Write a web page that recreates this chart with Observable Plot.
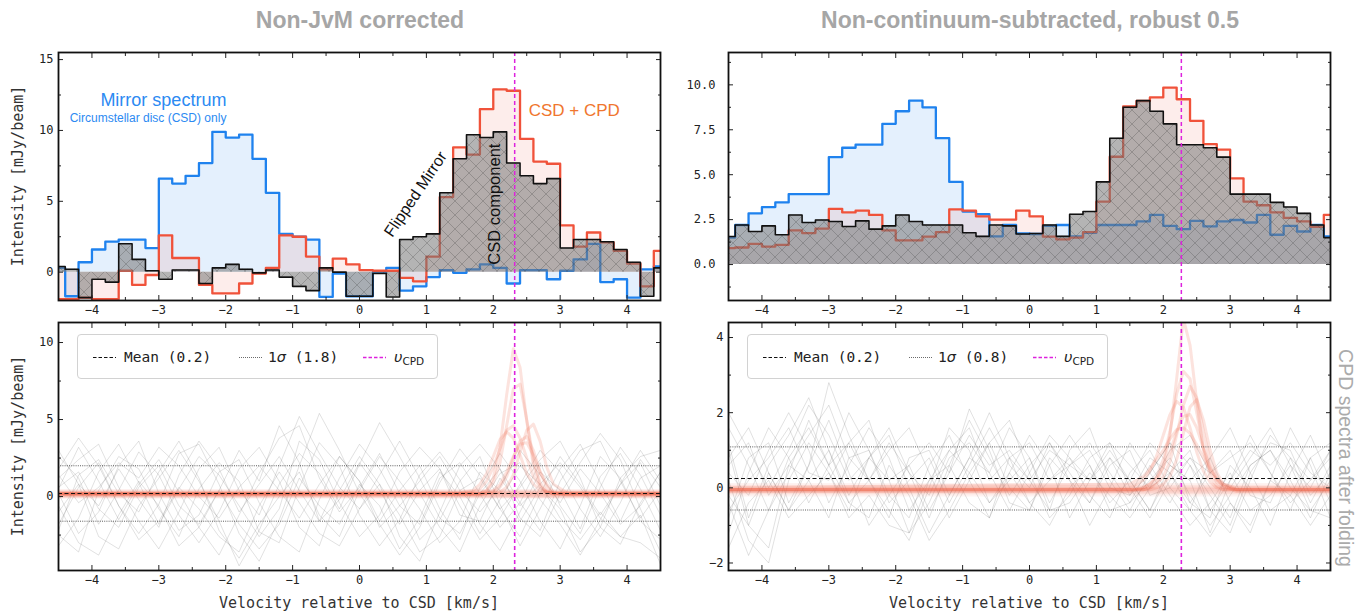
<!DOCTYPE html>
<html><head><meta charset="utf-8">
<script src="https://cdn.jsdelivr.net/npm/d3@7"></script>
<script src="https://cdn.jsdelivr.net/npm/@observablehq/plot@0.6"></script>
<style>
html,body{margin:0;padding:0;background:#fff}
body{width:1356px;height:614px;position:relative;overflow:hidden;font-family:"DejaVu Sans Mono",monospace;color:#222}
.abs{position:absolute}
.title{position:absolute;font-family:"Liberation Sans",Arial,sans-serif;font-weight:bold;font-size:23px;color:#a6a6a6;transform:translate(-50%,-50%);white-space:nowrap}
.ylab{position:absolute;font-family:"DejaVu Sans Mono",monospace;font-size:15px;color:#333;transform:translate(-50%,-50%) rotate(-90deg);white-space:nowrap}
.xlab{position:absolute;font-family:"DejaVu Sans Mono",monospace;font-size:15px;color:#333;transform:translate(-50%,-50%);white-space:nowrap}
.side{position:absolute;font-family:"Liberation Sans",Arial,sans-serif;font-size:19.5px;color:#ababab;transform:translate(-50%,-50%) rotate(90deg);white-space:nowrap}
.legend{position:absolute;width:361px;height:45px;border:1px solid #d2d2d2;border-radius:4px;background:rgba(255,255,255,0.85);box-sizing:border-box}
.lt{position:absolute;top:14px;line-height:16px;font-size:14.5px;font-family:"DejaVu Sans Mono",monospace;color:#222;white-space:nowrap}
.sig{font-family:"DejaVu Sans",sans-serif;font-style:italic}
.ups{font-family:"DejaVu Sans",sans-serif;font-style:italic}
.lt sub{font-family:"DejaVu Sans",sans-serif;font-size:10.5px;vertical-align:-3px;line-height:0}
</style></head>
<body>
<svg width="0" height="0" style="position:absolute"><defs>
<pattern id="hatch" patternUnits="userSpaceOnUse" width="14" height="14">
<path d="M0,0L14,14M14,0L0,14" stroke="#3d3d3d" stroke-width="0.6" stroke-opacity="0.45" fill="none"/>
</pattern></defs></svg>
<script>
// ---------- data ----------
const vel = [-4.5,-4.3,-4.1,-3.9,-3.7,-3.5,-3.3,-3.1,-2.9,-2.7,-2.5,-2.3,-2.1,-1.9,-1.7,-1.5,-1.3,-1.1,-0.9,-0.7,-0.5,-0.3,-0.1,0.1,0.3,0.5,0.7,0.9,1.1,1.3,1.5,1.7,1.9,2.1,2.3,2.5,2.7,2.9,3.1,3.3,3.5,3.7,3.9,4.1,4.3,4.5];

// Non-JvM corrected (left)
const leftMirror  = [0.3,-1.7,0.7,1.6,2.15,2.3,2.3,1.7,6.6,6.25,6.8,7.7,9.9,9.5,9.7,8.0,5.6,2.7,2.5,2.3,-1.75,-0.1,-1.7,-1.7,0.0,0.3,-1.3,-1.0,-0.35,0.15,-0.05,0.2,0.55,0.3,-0.8,0.15,0.15,-0.5,0.1,0.9,2.0,-0.7,-0.5,-1.8,0.2,0.4];
const leftCsdCpd  = [-1.9,-1.9,-1.8,-1.9,-1.9,0.1,-0.9,-0.2,2.6,1.0,1.0,-0.9,-1.5,-1.5,-0.8,-0.1,0.3,2.6,2.5,1.1,0.2,0.95,0.55,0.15,0.1,0.1,-0.4,-0.65,1.1,5.3,8.8,8.3,11.5,12.9,12.8,9.4,7.8,7.65,3.3,1.8,2.8,2.1,1.5,0.6,-1.0,1.5];
const leftFlipped = [0.4,0.2,-1.8,-0.5,-0.7,2.0,0.9,0.1,-0.5,0.15,0.15,-0.8,0.3,0.55,0.2,-0.05,0.15,-0.35,-1.0,-1.3,0.3,0.0,-1.7,-1.7,-0.1,-1.75,2.3,2.5,2.7,5.6,8.0,9.7,9.5,9.9,7.7,6.8,6.25,6.6,1.7,2.3,2.3,2.15,1.6,0.7,-1.7,0.3];

// Non-continuum-subtracted, robust 0.5 (right)
const rightMirror  = [1.5,2.2,2.85,3.2,3.46,3.92,3.92,3.92,5.98,6.5,6.67,6.67,7.83,8.53,9.12,8.75,7.03,4.6,2.95,2.8,1.57,2.2,1.73,1.7,2.15,2.2,1.57,1.77,2.2,2.2,2.2,2.4,2.76,2.15,1.97,2.43,2.12,2.4,2.48,2.34,2.76,1.66,2.15,1.84,2.2,1.56];
const rightCsdCpd  = [0.92,0.95,1.15,1.0,1.1,1.9,1.75,2.0,3.1,2.9,3.0,2.76,1.9,1.35,1.35,1.55,1.8,3.07,3.0,2.68,2.5,2.5,3.0,2.68,1.55,1.4,1.5,1.8,3.5,6.0,8.8,9.1,9.3,9.85,9.2,8.0,6.7,6.4,4.8,3.5,3.3,2.9,2.6,2.4,2.1,2.76];
const rightFlipped = [1.56,2.2,1.84,2.15,1.66,2.76,2.34,2.48,2.4,2.12,2.43,1.97,2.15,2.76,2.4,2.2,2.2,2.2,1.77,1.57,2.2,2.15,1.7,1.73,2.2,1.57,2.8,2.95,4.6,7.03,8.75,9.12,8.53,7.83,6.67,6.67,6.5,5.98,3.92,3.92,3.92,3.46,3.2,2.85,2.2,1.5];

const vCpdLeft = 2.32, vCpdRight = 2.27;

// CPD spectra after folding: noise spectra (grey)
const vNoise = [-4.5,-4.2,-3.9,-3.6,-3.3,-3.0,-2.7,-2.4,-2.1,-1.8,-1.5,-1.2,-0.9,-0.6,-0.3,0,0.3,0.6,0.9,1.2,1.5,1.8,2.1,2.4,2.7,3.0,3.3,3.6,3.9,4.2,4.5];
const leftNoise = [
 [0.5,3.2,1.0,-1.5,0.8,2.4,0.3,-2.0,-3.8,-1.2,1.5,3.8,4.6,1.2,-1.0,0.6,2.8,0.2,-2.8,-1.5,1.0,2.6,-0.5,-3.2,-0.8,1.8,3.4,0.9,-1.6,1.2,2.0],
 [-2.5,-3.6,0.4,2.6,1.8,-0.8,-2.6,0.5,2.2,1.0,-2.3,-3.0,0.6,3.5,2.0,-1.2,-3.2,-1.5,1.4,2.9,1.1,-1.8,-3.5,-1.0,1.6,0.4,-2.1,1.3,2.8,0.5,-2.2],
 [1.8,3.8,2.0,-0.6,-2.4,-0.5,2.8,3.4,0.8,-2.4,-4.2,-1.5,2.0,5.4,3.0,0.2,-1.8,-3.8,-2.0,0.9,3.1,1.4,-0.8,0.6,2.4,3.6,1.2,-2.0,-3.1,-0.4,1.6],
 [-1.0,0.8,-2.6,-3.4,-0.6,1.2,3.0,1.0,-1.6,-4.5,-2.2,0.8,2.8,1.5,-0.8,2.1,4.8,2.6,0.2,-2.0,-3.6,-0.6,1.5,2.2,-0.2,-1.8,-3.8,-1.5,0.8,3.0,1.0],
 [2.6,1.2,-1.8,0.4,2.9,1.4,-1.2,-3.0,-1.0,1.8,3.2,1.0,-2.0,-3.2,0.4,2.6,0.8,-2.6,-4.2,-1.0,2.0,3.4,1.8,-1.4,-2.6,0.2,2.2,4.1,2.4,-0.8,-3.6],
 [-3.2,-1.4,1.6,3.4,0.9,-1.8,0.5,2.6,1.4,-0.6,-2.6,-0.8,3.6,2.4,-0.4,-2.6,-1.2,1.6,3.2,1.8,-0.6,-2.8,-1.4,0.8,3.0,1.6,-0.8,-2.6,-0.4,2.4,0.6],
 [0.2,-2.4,-1.0,2.0,3.6,0.2,-2.2,-1.2,1.6,2.4,-0.4,-2.6,-3.6,-0.2,2.6,1.0,-1.6,0.4,2.0,-0.8,-2.8,0.6,2.8,1.0,-1.6,-3.4,-0.6,2.6,1.2,-1.6,-2.8],
 [1.2,2.4,3.4,0.6,-1.6,-3.4,-1.0,1.8,3.2,0.4,-1.2,2.0,5.2,2.8,0.6,-0.8,1.4,3.6,1.2,-1.4,-2.4,0.2,1.8,-0.4,-2.2,1.0,3.0,3.6,1.0,-1.4,0.4],
 [-1.8,0.6,2.2,-0.6,-2.8,-1.6,0.6,-0.8,-2.6,-3.6,-0.6,1.6,-0.4,-2.4,-3.2,-0.8,0.8,-1.2,-3.6,-2.6,0.4,1.2,-0.8,-2.6,0.2,2.6,0.8,-1.2,0.8,2.2,-0.6],
 [3.0,0.8,-0.6,1.8,-0.2,-2.0,1.4,3.6,1.8,-1.0,0.8,2.6,0.4,-1.6,1.2,3.4,1.8,-0.6,-1.8,1.2,2.2,0.2,-2.0,-0.4,2.2,-0.6,-2.4,0.6,3.2,1.4,-1.2],
 [-0.6,-3.0,-3.8,-1.2,1.0,-0.6,-3.2,-2.0,0.4,-1.8,-3.4,-1.8,1.2,-0.6,-1.8,0.8,-0.6,-3.4,-1.4,1.6,0.0,-2.4,-0.2,2.0,0.8,-1.4,-2.8,-1.0,-2.6,-3.0,-4.0],
 [1.4,-0.4,0.6,2.2,1.2,3.2,2.0,0.0,-1.4,0.6,2.0,0.4,-1.4,0.8,2.6,1.0,-2.0,-0.6,1.0,2.6,0.4,-1.0,0.6,3.0,1.4,-0.4,1.8,0.2,-1.8,-0.6,1.6],
 [-2.2,1.4,2.4,0.2,-1.0,1.6,3.6,1.2,-2.2,-4.0,-1.8,0.0,1.6,-1.2,-2.6,0.4,2.6,1.0,-0.8,-3.0,-1.6,1.6,0.4,-1.6,0.6,-0.8,-3.6,-2.0,1.2,2.6,3.0],
 [0.6,1.6,-0.8,-2.0,0.6,2.0,-0.6,-1.8,0.4,3.0,1.0,4.6,2.2,-1.6,-0.2,2.2,0.4,-1.8,0.4,1.8,-1.2,-1.6,1.2,-0.6,0.8,2.2,0.6,-1.4,-2.6,-1.2,-4.4]
];
const rightNoise = [
 [1.2,-0.8,0.6,1.4,2.4,1.0,-0.2,0.8,1.6,0.4,-0.8,0.6,1.8,0.8,-0.2,0.6,1.2,0.2,-0.4,0.8,0.2,-0.6,0.4,1.0,-0.6,-1.2,0.2,1.4,0.8,-0.4,0.6],
 [-0.4,-1.8,-0.6,0.8,1.6,0.6,1.2,1.8,0.2,-1.2,-0.4,0.8,1.2,0.4,1.6,0.8,-0.4,0.6,1.2,0.4,-0.4,0.2,0.8,-0.2,-1.0,-0.2,0.6,1.0,0.2,-0.8,0.4],
 [0.8,1.6,0.4,-0.6,0.6,2.8,1.4,0.2,-0.6,-1.4,0.0,1.6,1.0,-0.4,0.4,1.4,0.6,-0.8,0.2,1.0,0.2,-0.6,0.6,0.2,-1.2,0.2,1.4,0.4,-0.6,0.8,1.2],
 [-1.2,0.4,1.6,0.8,-0.4,0.6,2.0,1.0,-0.2,-0.8,0.6,1.4,0.2,-0.8,0.8,0.2,-0.6,1.0,1.6,0.2,-0.6,0.4,1.2,-0.4,-0.8,0.6,0.0,-1.0,0.4,1.4,0.2],
 [0.2,-1.4,-2.0,0.2,1.2,0.4,-0.6,0.8,1.4,0.0,-1.2,-0.2,0.8,2.0,0.8,-0.4,0.2,0.8,-0.2,-0.8,0.4,1.0,0.0,-0.6,0.8,1.6,0.4,-0.6,-0.2,0.8,-0.4],
 [1.6,0.6,-0.6,0.4,1.8,0.6,-0.4,0.2,1.0,1.6,0.4,-0.8,0.2,1.2,0.0,-0.6,0.6,1.4,0.6,-0.4,0.2,1.2,0.6,0.2,0.8,-0.4,-1.2,0.2,1.6,0.6,-0.8],
 [-0.8,0.8,1.2,-0.4,0.6,1.8,0.4,-1.0,-0.2,0.6,-0.6,0.4,2.1,1.0,-0.4,-0.6,0.8,0.2,-1.0,0.0,1.2,0.4,-0.4,0.6,-0.2,-1.0,0.4,1.2,1.0,-0.2,0.4],
 [0.4,-0.2,1.0,2.0,1.0,-0.4,0.6,1.6,0.8,-0.6,0.2,1.0,0.4,1.2,1.8,0.4,-0.8,-0.2,0.8,1.2,0.0,-0.8,0.2,0.8,0.4,1.0,-0.2,-0.4,0.8,0.2,1.0],
 [-0.2,-1.0,0.4,-0.6,0.2,1.0,-0.4,-0.8,0.6,-0.2,-1.4,-0.6,0.4,-0.4,0.2,0.8,-0.6,-0.4,0.4,-0.2,-0.8,0.0,0.4,-0.6,-1.3,-0.4,-1.0,0.2,-0.2,-1.0,-0.2],
 [2.0,1.0,0.0,1.0,2.2,1.4,0.2,0.8,0.2,0.6,1.2,0.4,1.4,0.6,1.0,0.2,1.0,0.6,0.2,1.2,0.6,0.0,1.0,1.4,0.4,0.0,0.8,1.6,0.6,0.0,1.0],
 [-1.6,-0.4,0.2,-0.8,-0.2,0.4,-0.8,-0.2,-1.0,-1.2,0.2,0.6,-0.4,-0.8,0.4,-0.4,-1.0,0.0,0.6,-0.6,-0.4,0.6,-0.2,-1.0,-0.4,0.4,-0.6,-0.2,0.6,-0.6,-0.8],
 [0.6,1.2,-0.2,0.6,1.4,2.2,0.8,0.2,1.2,0.4,-0.2,1.0,1.6,0.2,0.8,1.2,0.2,0.6,1.0,0.0,-0.2,0.8,0.4,-0.4,0.4,0.8,1.2,0.4,-0.4,0.2,0.8],
 [1.0,-1.0,-1.6,0.6,0.2,-0.8,0.8,1.0,-0.4,0.2,0.8,-0.4,0.6,1.6,0.6,0.0,1.2,0.4,-0.4,0.6,1.0,-0.2,0.0,0.8,0.0,-0.8,0.6,1.0,0.0,-0.6,0.2],
 [-0.6,0.2,0.8,1.6,0.4,0.2,1.2,0.2,-0.8,0.8,1.0,-0.2,0.8,0.4,-0.6,0.4,1.4,0.8,0.2,0.8,-0.2,0.4,1.2,0.6,-0.6,0.2,1.0,0.6,1.2,0.4,0.0]
];

// CPD line fits (red)
const vFit = [-4.5,1.5,1.7,1.8,1.9,2.0,2.1,2.2,2.3,2.4,2.5,2.6,2.7,2.8,2.9,3.1,4.5];
const leftFits = [
 [0.2,0.2,0.2,0.22,0.4,1.2,3.2,6.6,9.6,8.4,4.9,2.0,0.7,0.3,0.2,0.2,0.2],
 [0.15,0.15,0.15,0.2,0.35,0.9,2.2,4.6,7.0,7.3,5.0,2.4,0.9,0.3,0.15,0.15,0.15],
 [0.2,0.2,0.3,0.5,1.0,1.9,3.1,4.3,4.6,3.8,2.5,1.3,0.6,0.3,0.2,0.2,0.2],
 [0.2,0.2,0.2,0.2,0.2,0.2,0.3,0.6,1.4,2.9,4.3,4.7,3.6,1.9,0.8,0.25,0.2],
 [0.1,0.1,0.1,0.1,0.2,0.4,0.8,1.6,2.6,3.4,3.5,2.7,1.6,0.8,0.3,0.1,0.1],
 [0.25,0.25,0.4,0.8,1.5,2.6,3.7,4.2,3.8,2.7,1.5,0.8,0.4,0.3,0.25,0.25,0.25],
 [0.15,0.15,0.15,0.15,0.2,0.3,0.6,1.3,2.5,3.6,3.9,3.0,1.6,0.6,0.2,0.15,0.15]
];
const leftFlat = [0.05,0.12,0.18,0.25,0.3,0.1,0.22,0.15];
const rightFits = [
 [-0.05,-0.05,-0.05,0.0,0.15,0.55,1.4,2.9,4.5,3.8,2.3,1.0,0.3,0.05,-0.05,-0.05,-0.05],
 [-0.05,-0.05,0.0,0.1,0.3,0.75,1.5,2.5,3.1,2.9,2.0,1.1,0.45,0.15,0.0,-0.05,-0.05],
 [-0.05,-0.05,-0.05,-0.05,0.0,0.1,0.3,0.75,1.45,2.15,2.35,1.8,1.0,0.4,0.1,-0.05,-0.05],
 [-0.05,0.0,0.2,0.45,0.85,1.4,1.95,2.3,2.15,1.6,0.95,0.45,0.15,0.0,-0.05,-0.05,-0.05],
 [-0.1,-0.1,0.0,0.1,0.25,0.55,0.95,1.5,1.9,1.95,1.6,1.05,0.55,0.2,0.05,-0.1,-0.1],
 [-0.05,-0.05,-0.05,0.0,0.1,0.3,0.7,1.4,2.2,2.7,2.4,1.5,0.7,0.25,0.05,-0.05,-0.05],
 [0.0,0.1,0.3,0.5,0.75,1.0,1.3,1.55,1.6,1.45,1.15,0.8,0.5,0.25,0.1,0.0,0.0]
];
const rightFlat = [-0.1,-0.05,0.0,0.05,-0.15,-0.02,-0.08];

const leftMean = 0.2, leftSigma = 1.8;
const rightMean = 0.25, rightSigma = 0.84;

// ticks
const xMajor = [-4,-3,-2,-1,0,1,2,3,4];
const xMinor = [-3.5,-2.5,-1.5,-0.5,0.5,1.5,2.5,3.5];
const tlYMajor = [0,5,10,15], tlYMinor = [2.5,7.5,12.5];
const trYMajor = [0,2.5,5,7.5,10], trYMinor = [-1.25,1.25,3.75,6.25,8.75,11.25];
const blYMajor = [0,5,10], blYMinor = [-2.5,2.5,7.5];
const brYMajor = [-2,0,2,4], brYMinor = [-1,1,3];

// texts
const annotations = [
 {text:"Mirror spectrum", v:-1.99, y:12.1, size:18, color:"#2c8af2", rotate:0, anchor:"end"},
 {text:"Circumstellar disc (CSD) only", v:-1.99, y:10.85, size:12, color:"#2c8af2", rotate:0, anchor:"end"},
 {text:"CSD + CPD", v:3.21, y:11.4, size:17, color:"#f0762e", rotate:0, anchor:"middle"},
 {text:"Flipped Mirror", v:0.84, y:5.5, size:16, color:"#111", rotate:-56, anchor:"middle"},
 {text:"CSD component", v:2.02, y:4.8, size:16.5, color:"#111", rotate:-90, anchor:"middle"}
];

// ---------- styles ----------
const BLUE = "#1f82ee", RED = "#f0523a", MAGENTA = "#dd22dd";
const minus = d => (d < 0 ? "\u2212" : "") + Math.abs(d);
const blank = () => "";

function axes(yMaj, yMin, yFmt, yPad) {
  return [
    Plot.axisX(xMajor, {anchor:"bottom", tickSize:-5, tickPadding:10, tickFormat:minus, label:null}),
    Plot.axisX(xMinor, {anchor:"bottom", tickSize:-3, tickFormat:blank, label:null}),
    Plot.axisX(xMajor, {anchor:"top", tickSize:-5, tickFormat:blank, label:null}),
    Plot.axisX(xMinor, {anchor:"top", tickSize:-3, tickFormat:blank, label:null}),
    Plot.axisY(yMaj, {anchor:"left", tickSize:-5, tickPadding:yPad, tickFormat:yFmt, label:null}),
    Plot.axisY(yMin, {anchor:"left", tickSize:-3, tickFormat:blank, label:null}),
    Plot.axisY(yMaj, {anchor:"right", tickSize:-5, tickFormat:blank, label:null}),
    Plot.axisY(yMin, {anchor:"right", tickSize:-3, tickFormat:blank, label:null})
  ];
}

function place(svg, left, top) {
  svg.style.position = "absolute";
  svg.style.left = left + "px";
  svg.style.top = top + "px";
  svg.style.maxWidth = "none";
  document.body.appendChild(svg);
}

function topPanel(blue, red, black, ydomain, yMaj, yMin, yFmt, yPad, cpd, ann) {
  const rows = vel.map((v, i) => ({v, b: blue[i], r: red[i], k: black[i]}));
  const textMarks = ann.map(a => Plot.text([a], {x:"v", y:"y", text:"text", fill:a.color, fontSize:a.size,
    rotate:a.rotate, textAnchor:a.anchor, fontFamily:"Liberation Sans, Arial, sans-serif"}));
  return Plot.plot({
    width: 670, height: 290, marginLeft: 58, marginRight: 10, marginTop: 12, marginBottom: 30,
    x: {domain: [-4.5, 4.5], label: null}, y: {domain: ydomain, label: null},
    style: {fontFamily: "DejaVu Sans Mono, monospace", fontSize: "12px", color: "#222", background: "transparent", overflow: "visible"},
    marks: [
      Plot.areaY(rows, {x:"v", y1:0, y2:"b", curve:"step", fill:BLUE, fillOpacity:0.12, clip:true}),
      Plot.areaY(rows, {x:"v", y1:0, y2:"r", curve:"step", fill:RED, fillOpacity:0.1, clip:true}),
      Plot.line(rows, {x:"v", y:"b", curve:"step", stroke:BLUE, strokeWidth:2.3, clip:true}),
      Plot.line(rows, {x:"v", y:"r", curve:"step", stroke:RED, strokeWidth:2.3, clip:true}),
      Plot.areaY(rows, {x:"v", y1:0, y2:"k", curve:"step", fill:"#777", fillOpacity:0.55, clip:true}),
      Plot.areaY(rows, {x:"v", y1:0, y2:"k", curve:"step", fill:"url(#hatch)", clip:true}),
      Plot.line(rows, {x:"v", y:"k", curve:"step", stroke:"#111", strokeWidth:1.6, clip:true}),
      Plot.ruleX([cpd], {stroke:MAGENTA, strokeWidth:1.5, strokeDasharray:"4,3"}),
      ...textMarks,
      ...axes(yMaj, yMin, yFmt, yPad),
      Plot.frame({stroke:"#111", strokeWidth:1.8})
    ]
  });
}

function bottomPanel(noise, fits, flats, mean, sigma, ydomain, yMaj, yMin, cpd) {
  const noiseRows = noise.flatMap((arr, j) => arr.map((y, i) => ({v: vNoise[i], y, id: j})));
  const fitRows = fits.flatMap((arr, j) => arr.map((y, i) => ({v: vFit[i], y, id: j})));
  return Plot.plot({
    width: 670, height: 304, marginLeft: 58, marginRight: 10, marginTop: 12, marginBottom: 44,
    x: {domain: [-4.5, 4.5], label: null}, y: {domain: ydomain, label: null},
    style: {fontFamily: "DejaVu Sans Mono, monospace", fontSize: "12px", color: "#222", background: "transparent", overflow: "visible"},
    marks: [
      Plot.line(noiseRows, {x:"v", y:"y", z:"id", stroke:"#555", strokeOpacity:0.2, strokeWidth:0.9, clip:true}),
      Plot.ruleY(flats, {stroke:"#f07a62", strokeOpacity:0.09, strokeWidth:6}),
      Plot.line(fitRows, {x:"v", y:"y", z:"id", stroke:"#f0624a", strokeOpacity:0.18, strokeWidth:3, clip:true}),
      Plot.ruleY([mean], {stroke:"#111", strokeWidth:1.1, strokeDasharray:"4,2.5"}),
      Plot.ruleY([mean - sigma, mean + sigma], {stroke:"#333", strokeWidth:0.8, strokeDasharray:"1,1.2"}),
      Plot.ruleX([cpd], {stroke:MAGENTA, strokeWidth:1.6, strokeDasharray:"4,3"}),
      ...axes(yMaj, yMin, minus, 10),
      Plot.frame({stroke:"#111", strokeWidth:1.8})
    ]
  });
}

place(topPanel(leftMirror, leftCsdCpd, leftFlipped, [-2, 15.5], tlYMajor, tlYMinor, minus, 10, vCpdLeft, annotations), 0, 40);
place(topPanel(rightMirror, rightCsdCpd, rightFlipped, [-2, 11.8], trYMajor, trYMinor, d => d.toFixed(1), 18, vCpdRight, []), 670, 40);
place(bottomPanel(leftNoise, leftFits, leftFlat, leftMean, leftSigma, [-4.8, 11.3], blYMajor, blYMinor, vCpdLeft), 0, 310);
place(bottomPanel(rightNoise, rightFits, rightFlat, rightMean, rightSigma, [-2.2, 4.4], brYMajor, brYMinor, vCpdRight), 670, 310);

function addDiv(cls, text, left, top) {
  const d = document.createElement("div");
  d.className = cls; d.textContent = text;
  d.style.left = left + "px"; d.style.top = top + "px";
  document.body.appendChild(d);
}
addDiv("title", "Non-JvM corrected", 360, 20);
addDiv("title", "Non-continuum-subtracted, robust 0.5", 1030, 20);
addDiv("ylab", "Intensity [mJy/beam]", 18, 176);
addDiv("ylab", "Intensity [mJy/beam]", 18, 446);
addDiv("xlab", "Velocity relative to CSD [km/s]", 359, 603);
addDiv("xlab", "Velocity relative to CSD [km/s]", 1029, 603);
addDiv("side", "CPD spectra after folding", 1345, 458);

function legend(left, top, meanText, sigmaText) {
  const d = document.createElement("div");
  d.className = "legend";
  d.style.left = left + "px"; d.style.top = top + "px";
  d.innerHTML =
   `<svg class="abs" style="left:0;top:0" width="361" height="45">
      <line x1="15" x2="38" y1="22.5" y2="22.5" stroke="#111" stroke-width="1.2" stroke-dasharray="3.5,2"/>
      <line x1="161" x2="184" y1="22.5" y2="22.5" stroke="#444" stroke-width="0.8" stroke-dasharray="1,1"/>
      <line x1="285" x2="308" y1="22.5" y2="22.5" stroke="${MAGENTA}" stroke-width="1.7" stroke-dasharray="3.5,2"/>
    </svg>
    <span class="lt" style="left:46px">Mean (${meanText})</span>
    <span class="lt" style="left:190px">1<span class="sig">σ</span> (${sigmaText})</span>
    <span class="lt" style="left:316px"><span class="ups">υ</span><sub>CPD</sub></span>`;
  document.body.appendChild(d);
}
legend(77, 334, "0.2", "1.8");
legend(747, 334, "0.2", "0.8");
</script>
</body></html>
